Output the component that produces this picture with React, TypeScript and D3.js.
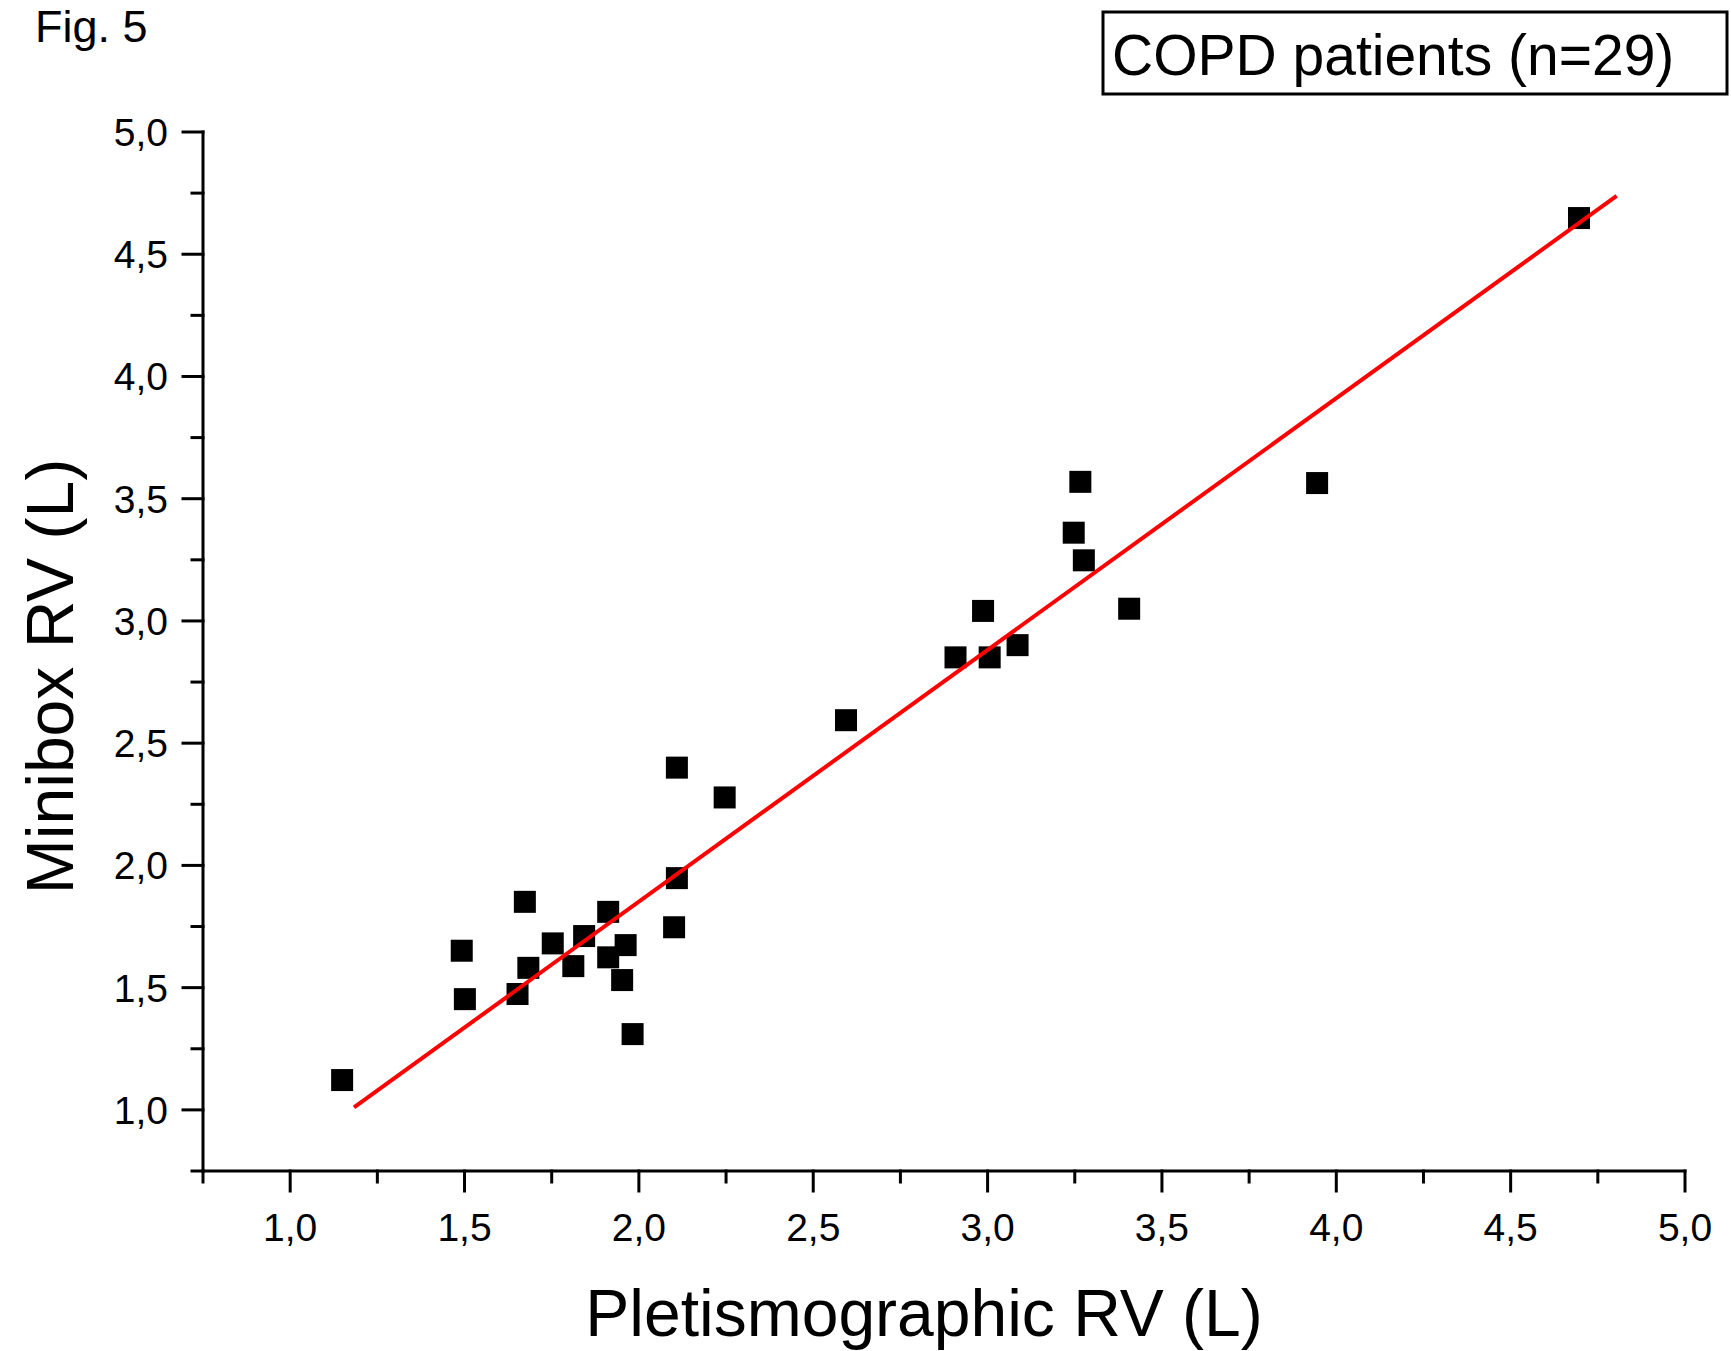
import React from "react";
import * as d3 from "d3";

// Data
const plethRV = [
  1.149, 1.492, 1.501, 1.652, 1.673, 1.683, 1.753, 1.812, 1.843, 1.912,
  1.912, 1.962, 1.952, 1.982, 2.101, 2.109, 2.109, 2.246, 2.594, 2.908,
  3.006, 2.987, 3.086, 3.247, 3.266, 3.276, 3.406, 3.945, 4.696,
];
const miniboxRV = [
  1.122, 1.651, 1.453, 1.474, 1.851, 1.581, 1.681, 1.588, 1.711, 1.810,
  1.624, 1.674, 1.531, 1.310, 1.747, 1.948, 2.400, 2.278, 2.594, 2.851,
  2.851, 3.041, 2.901, 3.361, 3.569, 3.248, 3.050, 3.564, 4.648,
];
// Linear fit drawn in red
const fitSlope = 1.0297;
const fitIntercept = -0.2076;
const fitRange = [1.183, 4.804];

const majorTicks = [1.0, 1.5, 2.0, 2.5, 3.0, 3.5, 4.0, 4.5, 5.0];
const minorTicks = [0.75, 1.25, 1.75, 2.25, 2.75, 3.25, 3.75, 4.25, 4.75];
const axisDomain = [0.75, 5.0];

const titleText = "Fig. 5";
const legendText = "COPD patients (n=29)";
const xTitle = "Pletismographic RV (L)";
const yTitle = "Minibox RV (L)";

const W = 1731;
const H = 1351;
const left = 203;
const right = 1685;
const top = 132;
const bottom = 1171;
const FONT = "'Liberation Sans', Arial, Helvetica, sans-serif";

const fmt = (v: number) => d3.format(".1f")(v).replace(".", ",");

export default function App() {
  const x = d3.scaleLinear().domain(axisDomain).range([left, right]);
  const y = d3.scaleLinear().domain(axisDomain).range([bottom, top]);
  const pts = plethRV.map((v, i) => [v, miniboxRV[i]]);
  const fitLine = d3
    .line<number>()
    .x((d) => x(d))
    .y((d) => y(fitSlope * d + fitIntercept));
  const sq = 22;
  const majorLen = 20;
  const minorLen = 11;

  return (
    <svg
      width={W}
      height={H}
      style={{ position: "absolute", left: 0, top: 0, background: "#fff" }}
      fontFamily={FONT}
    >
      <rect x={0} y={0} width={W} height={H} fill="#fff" />
      <text x={35} y={42} fontSize={45} fill="#000">
        {titleText}
      </text>

      {/* legend box */}
      <rect x={1103} y={12} width={624} height={82} fill="#fff" stroke="#000" strokeWidth={3} />
      <text x={1112} y={75} fontSize={57} fill="#000">
        {legendText}
      </text>

      {/* axes */}
      <g stroke="#000" strokeWidth={3} strokeLinecap="square">
        <line x1={left} y1={top} x2={left} y2={bottom} />
        <line x1={left} y1={bottom} x2={right} y2={bottom} />
        {majorTicks.map((t) => (
          <line key={"xm" + t} x1={x(t)} x2={x(t)} y1={bottom} y2={bottom + majorLen} />
        ))}
        {minorTicks.map((t) => (
          <line key={"xn" + t} x1={x(t)} x2={x(t)} y1={bottom} y2={bottom + minorLen} />
        ))}
        {majorTicks.map((t) => (
          <line key={"ym" + t} y1={y(t)} y2={y(t)} x1={left} x2={left - majorLen} />
        ))}
        {minorTicks.map((t) => (
          <line key={"yn" + t} y1={y(t)} y2={y(t)} x1={left} x2={left - minorLen} />
        ))}
      </g>
      <g fontSize={39} fill="#000">
        {majorTicks.map((t) => (
          <text key={"xl" + t} x={x(t)} y={bottom + 70} textAnchor="middle">
            {fmt(t)}
          </text>
        ))}
        {majorTicks.map((t) => (
          <text key={"yl" + t} x={left - 35} y={y(t) + 14} textAnchor="end">
            {fmt(t)}
          </text>
        ))}
      </g>

      <text x={924} y={1336} fontSize={66} textAnchor="middle" fill="#000">
        {xTitle}
      </text>
      <text
        transform={`translate(73, ${(top + bottom) / 2 + 25}) rotate(-90)`}
        fontSize={66}
        textAnchor="middle"
        fill="#000"
      >
        {yTitle}
      </text>

      {/* points */}
      <g fill="#000">
        {pts.map(([a, b], i) => (
          <rect key={i} x={x(a) - sq / 2} y={y(b) - sq / 2} width={sq} height={sq} />
        ))}
      </g>

      {/* fit line */}
      <path d={fitLine(fitRange) || ""} stroke="#ff0000" strokeWidth={4} fill="none" />
    </svg>
  );
}
